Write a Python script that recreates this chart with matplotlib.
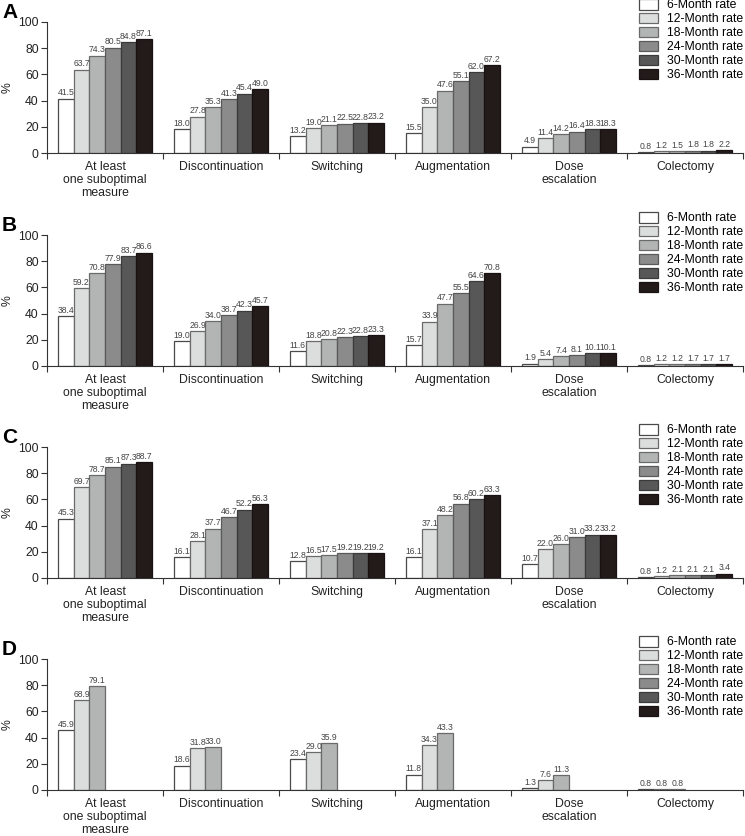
import matplotlib
matplotlib.use('Agg')
import matplotlib.pyplot as plt
import numpy as np

plt.rcParams['font.family'] = ['Liberation Sans', 'DejaVu Sans']

# ---- data ----
categories = ['At least\none suboptimal\nmeasure', 'Discontinuation', 'Switching',
              'Augmentation', 'Dose\nescalation', 'Colectomy']
series_names = ['6-Month rate', '12-Month rate', '18-Month rate',
                '24-Month rate', '30-Month rate', '36-Month rate']
panel_labels = ['A', 'B', 'C', 'D']

# rows = series (6, 12, 18, 24, 30, 36 months), columns = categories
panel_a = [
    [41.5, 18.0, 13.2, 15.5, 4.9, 0.8],
    [63.7, 27.8, 19.0, 35.0, 11.4, 1.2],
    [74.3, 35.3, 21.1, 47.6, 14.2, 1.5],
    [80.5, 41.3, 22.5, 55.1, 16.4, 1.8],
    [84.8, 45.4, 22.8, 62.0, 18.3, 1.8],
    [87.1, 49.0, 23.2, 67.2, 18.3, 2.2],
]
panel_b = [
    [38.4, 19.0, 11.6, 15.7, 1.9, 0.8],
    [59.2, 26.9, 18.8, 33.9, 5.4, 1.2],
    [70.8, 34.0, 20.8, 47.7, 7.4, 1.2],
    [77.9, 38.7, 22.3, 55.5, 8.1, 1.7],
    [83.7, 42.3, 22.8, 64.6, 10.1, 1.7],
    [86.6, 45.7, 23.3, 70.8, 10.1, 1.7],
]
panel_c = [
    [45.3, 16.1, 12.8, 16.1, 10.7, 0.8],
    [69.7, 28.1, 16.5, 37.1, 22.0, 1.2],
    [78.7, 37.7, 17.5, 48.2, 26.0, 2.1],
    [85.1, 46.7, 19.2, 56.8, 31.0, 2.1],
    [87.3, 52.2, 19.2, 60.2, 33.2, 2.1],
    [88.7, 56.3, 19.2, 63.3, 33.2, 3.4],
]
panel_d = [
    [45.9, 18.6, 23.4, 11.8, 1.3, 0.8],
    [68.9, 31.8, 29.0, 34.3, 7.6, 0.8],
    [79.1, 33.0, 35.9, 43.3, 11.3, 0.8],
    None,
    None,
    None,
]
panels = [panel_a, panel_b, panel_c, panel_d]

colors = ['#ffffff', '#dcdddd', '#b3b4b4', '#8b8b8b', '#575757', '#231a1a']
edges = ['#4a4a4a', '#6a6a6a', '#6a6a6a', '#5a5a5a', '#3a3a3a', '#1a1212']

W, H = 745, 836
fig = plt.figure(figsize=(W / 100, H / 100), dpi=100)

# axes top (value 100) and bottom (value 0) in pixels
tops = [22, 235, 447, 659]
bottoms = [153, 366, 578, 790]
left_px, right_px = 47, 743

bar_w = 0.135
x = np.arange(len(categories)) + 0.5

for p, data in enumerate(panels):
    ax = fig.add_axes([left_px / W, 1 - bottoms[p] / H,
                       (right_px - left_px) / W, (bottoms[p] - tops[p]) / H])
    handles = []
    for j, vals in enumerate(data):
        offs = x + (j - 2.5) * bar_w
        if vals is None:
            # series not reported for this panel: legend entry only
            handles.append(plt.Rectangle((0, 0), 1, 1, facecolor=colors[j],
                                         edgecolor=edges[j], linewidth=0.9))
            continue
        h = ax.bar(offs, vals, bar_w, color=colors[j], edgecolor=edges[j],
                   linewidth=0.9)
        handles.append(h)
        for xi, v in zip(offs, vals):
            ax.text(xi, v + 0.9, f'{v:.1f}', ha='center', va='bottom',
                    fontsize=6.2, color='#444444')

    ax.set_xlim(0, 6)
    ax.set_ylim(0, 100)
    ax.set_yticks([0, 20, 40, 60, 80, 100])
    ax.tick_params(axis='y', labelsize=8.8, length=4, width=0.8, pad=2,
                   color='#333333', labelcolor='#222222')
    ax.set_xticks(np.arange(0, 7))
    ax.set_xticklabels([])
    ax.tick_params(axis='x', which='major', length=4, width=0.8, color='#333333')
    ax.set_xticks(x, minor=True)
    ax.set_xticklabels(categories, minor=True, fontsize=8.8, linespacing=1.08,
                       color='#222222')
    ax.tick_params(axis='x', which='minor', length=0, pad=6)
    for s in ['top', 'right']:
        ax.spines[s].set_visible(False)
    for s in ['left', 'bottom']:
        ax.spines[s].set_linewidth(0.8)
        ax.spines[s].set_color('#333333')

    mid = (tops[p] + bottoms[p]) / 2
    fig.text(8 / W, 1 - mid / H, '%', fontsize=8.8, rotation=90,
             ha='center', va='center', color='#222222')

    fig.text(2 / W, 1 - (tops[p] - 19) / H, panel_labels[p], fontsize=15,
             fontweight='bold', va='top', ha='left')

    fig.legend(handles, series_names, loc='upper right',
               bbox_to_anchor=(743 / W, 1 - (tops[p] - 23) / H),
               frameon=False, fontsize=8.8, handlelength=1.5, handleheight=0.95,
               handletextpad=0.75, labelspacing=0.12, borderpad=0,
               borderaxespad=0)

fig.savefig('out.png', dpi=100, facecolor='white')
